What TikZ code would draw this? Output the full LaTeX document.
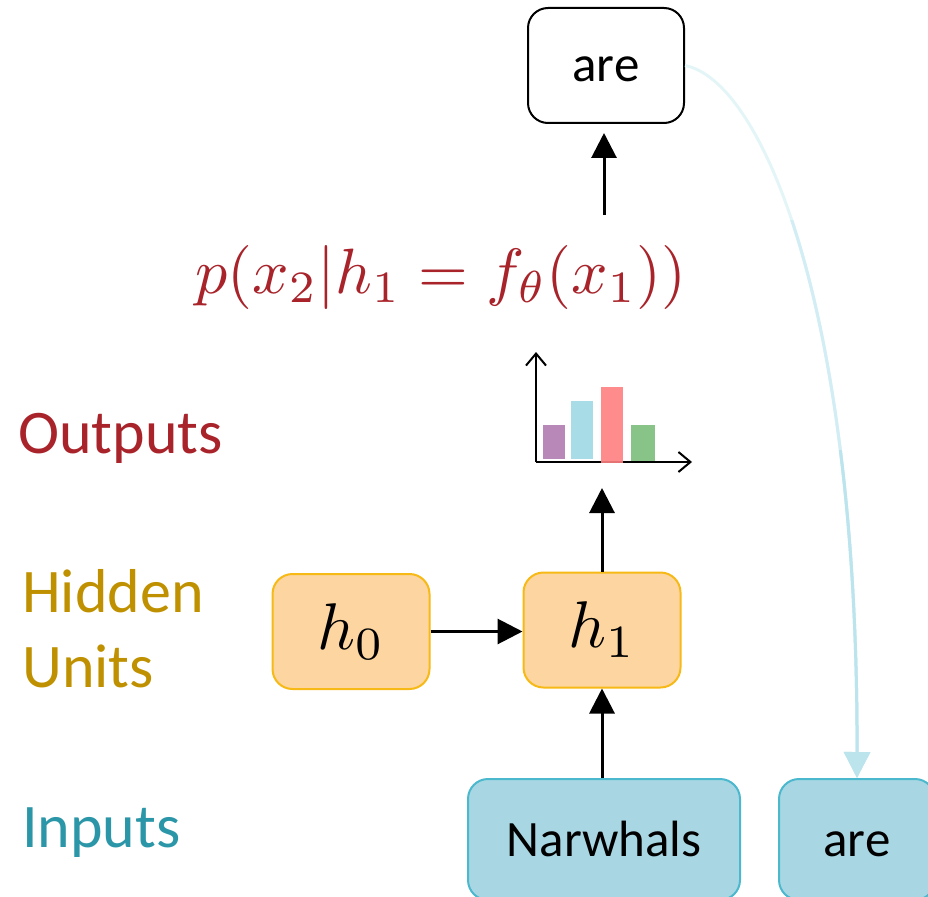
\documentclass[tikz,border=0pt]{standalone}
\usepackage{graphicx}
\usepackage{fontspec}
\setmainfont{Carlito}
\usetikzlibrary{arrows.meta}
\definecolor{outred}{HTML}{A8232A}
\definecolor{hidgold}{HTML}{BF9000}
\definecolor{inteal}{HTML}{2B96A8}
\definecolor{hfill}{HTML}{FCD5A0}
\definecolor{hdraw}{HTML}{F7B916}
\definecolor{ifill}{HTML}{A8D7E3}
\definecolor{idraw}{HTML}{4BB8CE}
\definecolor{curveA}{HTML}{E4F5F8}
\definecolor{curveB}{HTML}{D2EEF4}
\definecolor{curveC}{HTML}{BCE4ED}
\definecolor{barpurple}{HTML}{B888B8}
\definecolor{barblue}{HTML}{A8DDE8}
\definecolor{barred}{HTML}{FF8080}
\definecolor{bargreen}{HTML}{88C488}
\tikzset{
  wordbox/.style={draw=black, line width=2pt, rounded corners=20pt, minimum width=156pt, minimum height=115pt, inner sep=0pt, text height=33pt, text depth=0pt, font=\fontsize{51}{60}\selectfont},
  hbox/.style={draw=hdraw, fill=hfill, line width=2pt, rounded corners=20pt, minimum width=157pt, minimum height=115pt, inner sep=0pt},
  ibox/.style={draw=idraw, fill=ifill, line width=2pt, rounded corners=20pt, minimum height=121pt, inner sep=0pt, text height=33pt, text depth=0pt, font=\fontsize{51}{60}\selectfont},
  arr/.style={line width=3pt, -{Triangle[width=25pt,length=25pt]}},
  axisarr/.style={line width=2pt, -{Straight Barb[width=20pt,length=12pt,line width=2pt]}},
  curvearr/.style={line width=3pt, -{Triangle[width=26pt,length=26pt]}},
  lbl/.style={anchor=base west, inner sep=0pt, font=\fontsize{62}{62}\selectfont},
}
\begin{document}
\begin{tikzpicture}[x=1pt,y=-1pt]
\useasboundingbox (0,0) rectangle (928,896);
\clip (0,0) rectangle (928,896);
% side labels
\node[lbl, text=outred] (lout) at (18,453) {Outputs};
\node[lbl, text=hidgold] (lhid) at (22,612) {Hidden};
\node[lbl, text=hidgold] (luni) at (22,687) {Units};
\node[lbl, text=inteal] (linp) at (22,847) {Inputs};
% boxes
\node[wordbox] (topare) at (606,65.5) {are};
\node[hbox] (h0) at (351,631.5) {\scalebox{6.6}{$h_0$}};
\node[hbox] (h1) at (602,630) {\scalebox{6.6}{$h_1$}};
\node[ibox, minimum width=272pt] (narw) at (604,839.5) {Narwhals};
\node[ibox, minimum width=156pt] (are2) at (857,839.5) {are};
% formula
\node[anchor=base, inner sep=0pt, text=outred] (formula) at (441,293) {\scalebox{6.4}{$p(x_2|h_1=f_\theta(x_1))$}};
% chart
\fill[barpurple] (543,425) rectangle (565,459);
\fill[barblue] (571,401) rectangle (593,459);
\fill[bargreen] (631,425) rectangle (655,461);
\coordinate (orig) at (536,462);
\draw[axisarr] (orig) -- (536,352);
\draw[axisarr] (orig) -- (692,462);
\fill[barred, opacity=0.9] (601,387) rectangle (623,463);
\coordinate (chartbot) at (602,488);
\coordinate (formtop) at (604,215);
% arrows
\draw[arr] (h1.south |- narw.north) -- (h1.south);
\draw[arr] (h0.east) -- (h0.east -| h1.west);
\draw[arr] (h1.north) -- (chartbot);
\draw[arr] (formtop) -- ([yshift=-9pt]formtop |- topare.south);
% curved arrow with fading colour
\draw[curvearr, draw=curveA] (topare.east) .. controls (760,80) and (858,300) .. (are2.north);
\begin{scope}
\clip (700,220) rectangle (928,896);
\draw[curvearr, draw=curveB] (topare.east) .. controls (760,80) and (858,300) .. (are2.north);
\end{scope}
\begin{scope}
\clip (700,450) rectangle (928,896);
\draw[curvearr, draw=curveC] (topare.east) .. controls (760,80) and (858,300) .. (are2.north);
\end{scope}
\end{tikzpicture}
\end{document}
